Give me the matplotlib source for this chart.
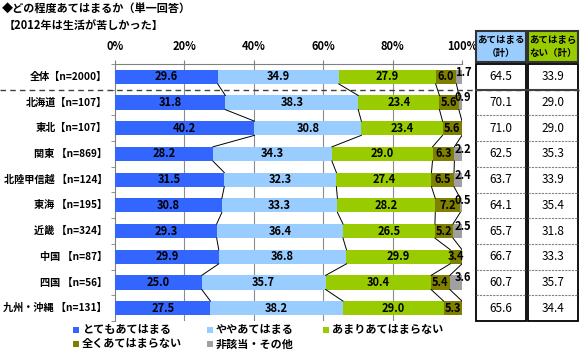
import matplotlib
matplotlib.use("Agg")
import matplotlib.pyplot as plt
from matplotlib.patches import Rectangle
import numpy as np

plt.rcParams["font.family"] = ["Noto Sans CJK JP", "DejaVu Sans"]

# ---- data ----
categories = ["全体【n=2000】", "北海道【n=107】", "東北【n=107】", "関東 【n=869】",
              "北陸甲信越 【n=124】", "東海 【n=195】", "近畿 【n=324】",
              "中国 【n=87】", "四国 【n=56】", "九州・沖縄 【n=131】"]
series_names = ["とてもあてはまる", "ややあてはまる", "あまりあてはまらない",
                "全くあてはまらない", "非該当・その他"]
very = [29.6, 31.8, 40.2, 28.2, 31.5, 30.8, 29.3, 29.9, 25.0, 27.5]
somewhat = [34.9, 38.3, 30.8, 34.3, 32.3, 33.3, 36.4, 36.8, 35.7, 38.2]
not_much = [27.9, 23.4, 23.4, 29.0, 27.4, 28.2, 26.5, 29.9, 30.4, 29.0]
not_at_all = [6.0, 5.6, 5.6, 6.3, 6.5, 7.2, 5.2, 3.4, 5.4, 5.3]
other = [1.7, 0.9, 0.0, 2.2, 2.4, 0.5, 2.5, 0.0, 3.6, 0.0]
applies_total = [64.5, 70.1, 71.0, 62.5, 63.7, 64.1, 65.7, 66.7, 60.7, 65.6]
not_applies_total = [33.9, 29.0, 29.0, 35.3, 33.9, 35.4, 31.8, 33.3, 35.7, 34.4]
table_headers = ["あてはまる\n（計）", "あてはまら\nない（計）"]
xticks = [0, 20, 40, 60, 80, 100]

colors = ["#3366FF", "#99CCFF", "#99CC00", "#808000", "#A0A0A0"]
header_colors = ["#99CCFF", "#99CC00"]

W, H = 580, 351
fig = plt.figure(figsize=(W / 100, H / 100), dpi=100)


def fx(px):
    return px / W


def fy(py):
    return 1 - py / H


top_px, bot_px = 64, 321
ax = fig.add_axes([fx(115), fy(bot_px), fx(462) - fx(115), fy(top_px) - fy(bot_px)])

data = np.array([very, somewhat, not_much, not_at_all, other])
n = len(categories)
y = np.arange(n)
h = 0.55
left = np.zeros(n)
for k in range(data.shape[0]):
    ax.barh(y, data[k], left=left, height=h, color=colors[k], zorder=3)
    for i in range(n):
        v = data[k][i]
        if v <= 0:
            continue
        if k < 4:
            ax.text(left[i] + v / 2, y[i], f"{v:.1f}", ha="center", va="center",
                    fontsize=8, fontweight="bold", zorder=5)
        else:
            ax.text(100.3, y[i] - 0.18, f"{v:.1f}", ha="center", va="center",
                    fontsize=8, fontweight="bold", zorder=5, clip_on=False)
    left = left + data[k]

# connector lines between neighbouring bars
cum = np.cumsum(data, axis=0)
for i in range(n - 1):
    for k in range(4):
        ax.plot([cum[k][i], cum[k][i + 1]], [y[i] + h / 2, y[i + 1] - h / 2],
                color="black", lw=0.7, zorder=4)

ax.set_xlim(0, 100)
ax.set_ylim(n - 0.5, -0.5)
ax.set_xticks(xticks)
ax.set_xticklabels([f"{t}%" for t in xticks], fontsize=8, fontweight="bold")
ax.xaxis.tick_top()
ax.tick_params(axis="x", length=3, width=0.8, color="#808080", pad=5)
ax.set_yticks(np.arange(n + 1) - 0.5, minor=True)
ax.set_yticks([])
ax.tick_params(axis="y", which="minor", length=3, color="#808080")
for i, c in enumerate(categories):
    ax.text(-2.3, y[i], c, ha="right", va="center", fontsize=7.3, fontweight="bold")
for t in xticks[1:]:
    ax.axvline(t, color="#8C8C8C", lw=0.8, zorder=1)
for s in ["right", "bottom"]:
    ax.spines[s].set_visible(False)
ax.spines["top"].set_color("#808080")
ax.spines["left"].set_color("#808080")

# dashed separator under 全体
sep_y = fy(top_px + (bot_px - top_px) / n)
fig.add_artist(plt.Line2D([0, 1], [sep_y, sep_y], ls=(0, (4, 3)), color="#404040", lw=1.0))

# ---- title ----
fig.text(fx(2), fy(9), "◆どの程度あてはまるか（単一回答）", fontsize=8, fontweight="bold", va="center")
fig.text(fx(4), fy(25), "【2012年は生活が苦しかった】", fontsize=8, fontweight="bold", va="center")

# ---- right table ----
col_edges = [(476, 526), (528, 578)]
row_h = (bot_px - top_px) / n
for j, (x0, x1) in enumerate(col_edges):
    # header
    fig.add_artist(Rectangle((fx(x0), fy(62)), fx(x1 - x0), fy(31) - fy(62),
                             facecolor=header_colors[j], edgecolor="#333333", lw=1.5))
    fig.text(fx((x0 + x1) / 2), fy(46.5), table_headers[j], ha="center", va="center",
             fontsize=6.8, fontweight="bold", linespacing=1.4)
    # body
    fig.add_artist(Rectangle((fx(x0), fy(bot_px)), fx(x1 - x0), fy(top_px) - fy(bot_px),
                             facecolor="white", edgecolor="black", lw=1.3))
    vals = applies_total if j == 0 else not_applies_total
    for i in range(n):
        cy = top_px + row_h * (i + 0.5)
        fig.text(fx((x0 + x1) / 2), fy(cy), f"{vals[i]:.1f}", ha="center", va="center",
                 fontsize=8.5)
        if i > 1:
            ly = fy(top_px + row_h * i)
            fig.add_artist(plt.Line2D([fx(x0), fx(x1)], [ly, ly], ls=(0, (2, 1)),
                                      color="#808080", lw=0.8))
    ly = fy(top_px + row_h)
    fig.add_artist(plt.Line2D([fx(x0), fx(x1)], [ly, ly], color="#404040", lw=1.5))

# ---- legend ----
legend_pos = [(76, 330), (210, 330), (326, 330), (76, 344), (210, 344)]
for (lx, ly), name, c in zip(legend_pos, series_names, colors):
    fig.add_artist(Rectangle((fx(lx - 3), fy(ly + 3)), fx(6), fy(ly - 3) - fy(ly + 3),
                             facecolor=c, edgecolor="none"))
    fig.text(fx(lx + 6), fy(ly), name, fontsize=8, fontweight="bold", va="center")

fig.savefig("out.png", dpi=100)
